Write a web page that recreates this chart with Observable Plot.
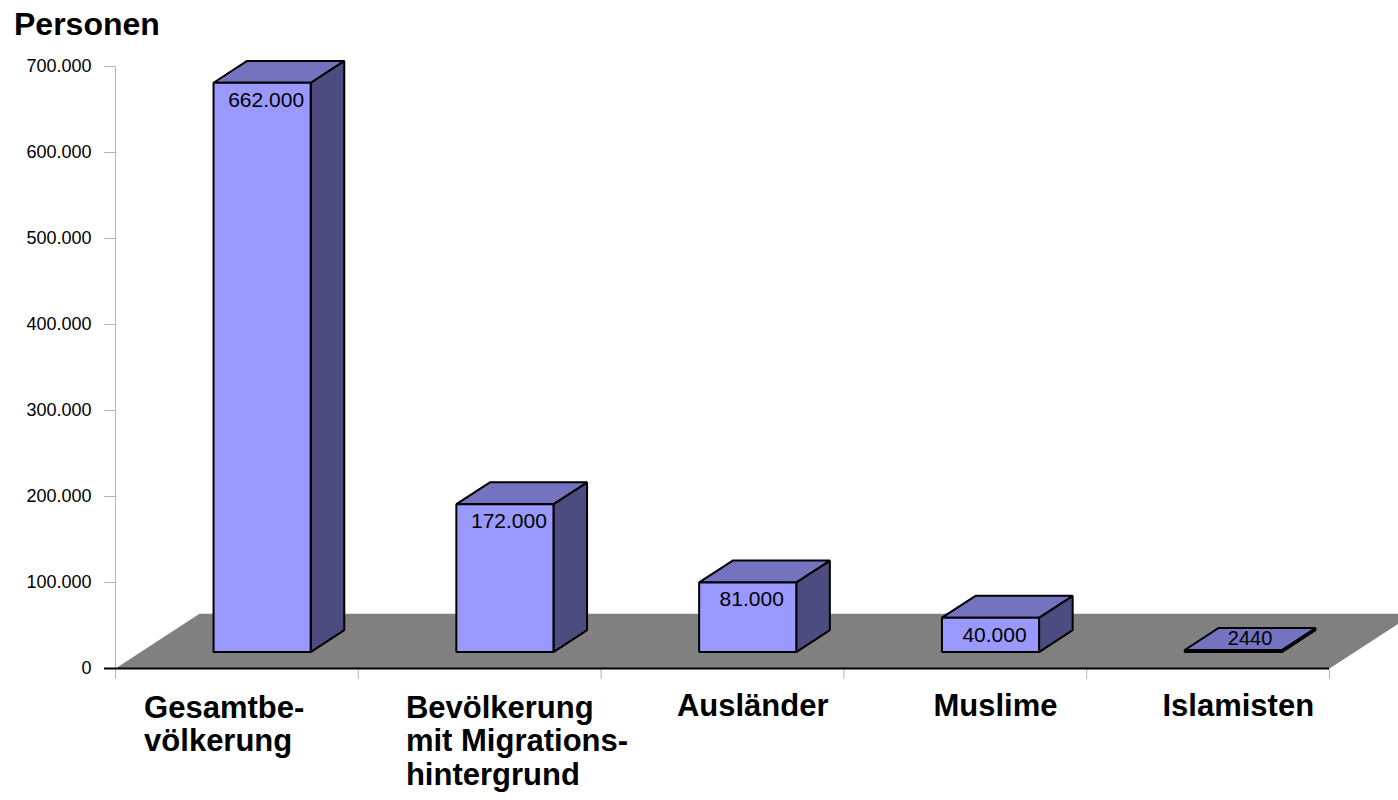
<!DOCTYPE html>
<html>
<head>
<meta charset="utf-8">
<script src="https://cdn.jsdelivr.net/npm/d3@7"></script>
<script src="https://cdn.jsdelivr.net/npm/@observablehq/plot@0.6"></script>
<style>
  html, body { margin: 0; padding: 0; background: #fff; }
  body { width: 1398px; height: 800px; overflow: hidden; font-family: "Liberation Sans", Arial, sans-serif; }
  #title { height: 48px; line-height: 48px; font-size: 32px; font-weight: bold; padding-left: 14px; color: #000; }
</style>
</head>
<body>
<div id="title">Personen</div>
<div id="chart"></div>
<script>
// ---- data ----
const categories = ["Gesamtbe-\nvölkerung", "Bevölkerung\nmit Migrations-\nhintergrund", "Ausländer", "Muslime", "Islamisten"];
const values = [662000, 172000, 81000, 40000, 2440];
const valueLabels = ["662.000", "172.000", "81.000", "40.000", "2440"];
const yTicks = [0, 100000, 200000, 300000, 400000, 500000, 600000, 700000];

// ---- 3D geometry helpers (depth expressed in scale units) ----
const DX = 84 / 242.8;              // depth offset along x (category units)
const DY = 54.7 * 700000 / 602;     // depth offset along y (value units)
const T0 = 0.3, T1 = 0.7;           // bar front/back position within floor depth
const P = (x, t, y) => ({x: x + t * DX, y: y + t * DY});

const frontFaces = [], sideFaces = [], topFaces = [];
values.forEach((v, i) => {
  const xl = i + 0.3, xr = i + 0.7;
  [P(xl, T0, 0), P(xr, T0, 0), P(xr, T0, v), P(xl, T0, v)].forEach(p => frontFaces.push({...p, id: i}));
  [P(xr, T0, 0), P(xr, T1, 0), P(xr, T1, v), P(xr, T0, v)].forEach(p => sideFaces.push({...p, id: i}));
  [P(xl, T0, v), P(xr, T0, v), P(xr, T1, v), P(xl, T1, v)].forEach(p => topFaces.push({...p, id: i}));
});
const n = categories.length;
const floorPoly = [P(0, 0, 0), P(n, 0, 0), P(n, 1, 0), P(0, 1, 0)];

const rows = values.map((v, i) => ({i, v, label: valueLabels[i], cat: categories[i]}));

const de = d3.formatLocale({decimal: ",", thousands: ".", grouping: [3], currency: ["", " €"]});
const fmt = de.format(",");

const black = "#000";
const axisGray = "#b4b4b4";

const chart = Plot.plot({
  width: 1398,
  height: 752,
  marginLeft: 115,
  marginRight: 69,
  marginTop: 18,
  marginBottom: 132,
  style: {fontFamily: "'Liberation Sans', Arial, sans-serif", fontSize: "18px", color: "#000", background: "#fff"},
  x: {type: "linear", domain: [0, n], axis: null},
  y: {type: "linear", domain: [0, 700000], axis: null},
  marks: [
    // floor
    Plot.line(floorPoly, {x: "x", y: "y", fill: "#808080", stroke: "none", curve: "linear-closed"}),
    // y axis line
    Plot.ruleX([0], {y1: 0, y2: 700000, stroke: axisGray, strokeWidth: 1}),
    // y ticks + labels
    Plot.axisY({ticks: yTicks.filter(d => d > 0), tickSize: 11, tickPadding: 13, tickFormat: fmt, label: null,
      stroke: axisGray, fill: black, fontSize: 18}),
    Plot.axisY({ticks: [0], tickSize: 11, tickPadding: 13, tickFormat: fmt, label: null,
      stroke: black, strokeWidth: 2, fill: black, fontSize: 18}),
    // x category ticks
    Plot.axisX({ticks: d3.range(0, n + 1), tickSize: 11, tickFormat: () => "", label: null, stroke: axisGray, anchor: "bottom"}),
    // floor front edge
    Plot.ruleY([0], {x1: 0, x2: n, stroke: black, strokeWidth: 2}),
    // bars
    Plot.line(sideFaces, {x: "x", y: "y", z: "id", fill: "#4c4c80", stroke: black, strokeWidth: 2, curve: "linear-closed", strokeLinejoin: "miter"}),
    Plot.line(topFaces, {x: "x", y: "y", z: "id", fill: "#7373bf", stroke: black, strokeWidth: 2, curve: "linear-closed", strokeLinejoin: "miter"}),
    Plot.line(frontFaces, {x: "x", y: "y", z: "id", fill: "#9999ff", stroke: black, strokeWidth: 2, curve: "linear-closed", strokeLinejoin: "miter"}),
    // value labels: inside front face for tall bars
    Plot.text(rows.filter(d => d.v >= 10000), {
      x: d => d.i + 0.5 + T0 * DX, y: d => d.v + T0 * DY, text: "label",
      lineAnchor: "top", dy: 9, dx: 4, fontSize: 21, fill: black
    }),
    // value labels: on top face for very small bars
    Plot.text(rows.filter(d => d.v < 10000), {
      x: d => d.i + 0.5 + 0.5 * DX, y: d => d.v + 0.5 * DY, text: "label",
      fontSize: 20, fill: black
    }),
    // category labels
    Plot.text(rows.filter(d => !d.cat.includes("\n")), {
      x: d => d.i + 0.5 + T0 * DX, y: 0, text: "cat", lineAnchor: "top", dy: 25, dx: 5,
      fontSize: 31, fontWeight: "bold", fill: black
    }),
    Plot.text(rows.filter(d => d.i === 0), {
      x: d => d.i + 0.5 + T0 * DX, y: 0, text: "cat", lineAnchor: "top", dy: 25, dx: -118,
      textAnchor: "start", lineHeight: 1.09, fontSize: 31, fontWeight: "bold", fill: black
    }),
    Plot.text(rows.filter(d => d.i === 1), {
      x: d => d.i + 0.5 + T0 * DX, y: 0, text: "cat", lineAnchor: "top", dy: 25, dx: -99,
      textAnchor: "start", lineHeight: 1.09, fontSize: 31, fontWeight: "bold", fill: black
    })
  ]
});
document.getElementById("chart").appendChild(chart);
</script>
</body>
</html>
